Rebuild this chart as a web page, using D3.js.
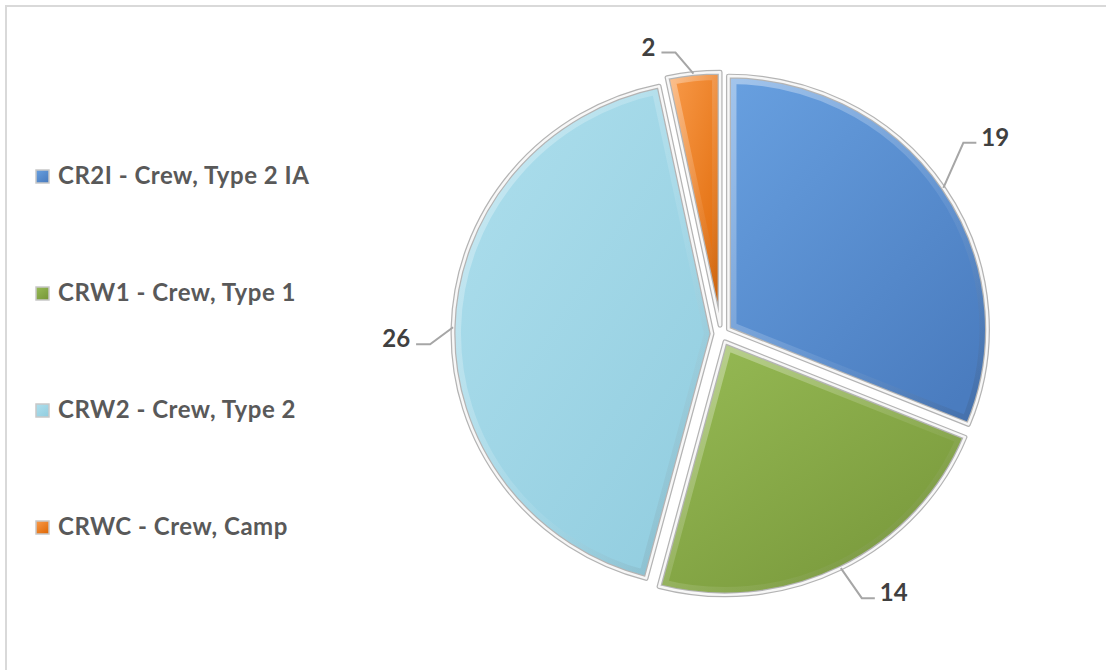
<!DOCTYPE html>
<html>
<head>
<meta charset="utf-8">
<script src="https://cdn.jsdelivr.net/npm/d3@7"></script>
<style>
  html, body { margin: 0; padding: 0; background: #fff; }
  svg { display: block; }
  .legend text { font-family: Lato, "Open Sans", sans-serif; font-weight: 700; fill: #595959; letter-spacing: 0.5px; }
  .label { font-family: Lato, "Open Sans", sans-serif; font-weight: 700; fill: #404040; }
</style>
</head>
<body>
<svg id="chart" width="1106" height="670"></svg>
<script>
"use strict";

// data
const categories = ['CR2I - Crew, Type 2 IA', 'CRW1 - Crew, Type 1', 'CRW2 - Crew, Type 2', 'CRWC - Crew, Camp'];
const values = [19, 14, 26, 2];
const lightColors = ['#68a0e0', '#97bb55', '#aedfed', '#f99b4b'];
const darkColors = ['#4a7cbf', '#78983b', '#93cee0', '#e06a08'];

// layout
const width = 1106, height = 670;
const cx = 721, cy = 334;
const rx = 259, ry = 253;
const explode = 9;
// leader line elbow, relative to the point on the rim at the slice middle
const elbowOffsets = [[20, -45], [21, 30], [-23, 17], [-18, -21]];

const svg = d3.select('#chart');
const defs = svg.append('defs');

svg.append('rect')
    .attr('x', 6).attr('y', 6)
    .attr('width', width + 20).attr('height', height + 20)
    .attr('fill', 'none')
    .attr('stroke', '#d9d9d9')
    .attr('stroke-width', 2);

values.forEach((v, i) => {
    const g = defs.append('linearGradient')
        .attr('id', `grad${i}`)
        .attr('x1', '0').attr('y1', '0')
        .attr('x2', '0.8').attr('y2', '1');
    g.append('stop').attr('offset', '0%').attr('stop-color', lightColors[i]);
    g.append('stop').attr('offset', '100%').attr('stop-color', darkColors[i]);
});

const rim = defs.append('linearGradient')
    .attr('id', 'rim')
    .attr('x1', '0').attr('y1', '0')
    .attr('x2', '1').attr('y2', '1');
rim.append('stop').attr('offset', '0%').attr('stop-color', '#fff').attr('stop-opacity', 0.4);
rim.append('stop').attr('offset', '60%').attr('stop-color', '#fff').attr('stop-opacity', 0.08);
rim.append('stop').attr('offset', '100%').attr('stop-color', '#000').attr('stop-opacity', 0.12);

const pie = d3.pie().sort(null).value(d => d);
const slices = pie(values);
const arc = d3.arc().innerRadius(0).outerRadius(rx);
const ky = ry / rx;

const pieG = svg.append('g')
    .attr('transform', `translate(${cx},${cy}) scale(1,${ky})`);

const mid = d => (d.startAngle + d.endAngle) / 2;

const sliceG = pieG.selectAll('g.slice')
    .data(slices)
    .enter()
    .append('g')
    .attr('class', 'slice')
    .attr('transform', d => `translate(${explode * Math.sin(mid(d))},${-explode * Math.cos(mid(d))})`);

sliceG.append('clipPath')
    .attr('id', (d, i) => `clip${i}`)
    .append('path')
    .attr('d', arc);

sliceG.append('path')
    .attr('d', arc)
    .attr('fill', (d, i) => `url(#grad${i})`);

// soft bevel rim inside each slice
sliceG.append('path')
    .attr('d', arc)
    .attr('fill', 'none')
    .attr('stroke', 'url(#rim)')
    .attr('stroke-width', 16)
    .attr('clip-path', (d, i) => `url(#clip${i})`);

// outline: grey outer, white inner
sliceG.append('path')
    .attr('d', arc)
    .attr('fill', 'none')
    .attr('stroke', '#b4b4b4')
    .attr('stroke-width', 5)
    .attr('stroke-linejoin', 'round');
sliceG.append('path')
    .attr('d', arc)
    .attr('fill', 'none')
    .attr('stroke', '#f7f7f7')
    .attr('stroke-width', 2.5)
    .attr('stroke-linejoin', 'round');

// data labels with leader lines
const rimPoint = d => {
    const a = mid(d);
    return [cx + (rx + explode) * Math.sin(a), cy - ky * (rx + explode) * Math.cos(a)];
};

slices.forEach((d, i) => {
    const p0 = rimPoint(d);
    const p1 = [p0[0] + elbowOffsets[i][0], p0[1] + elbowOffsets[i][1]];
    const right = Math.sin(mid(d)) > 0;
    const p2 = [p1[0] + (right ? 13 : -14), p1[1]];
    svg.append('path')
        .attr('d', d3.line()([p0, p1, p2]))
        .attr('fill', 'none')
        .attr('stroke', '#a6a6a6')
        .attr('stroke-width', 2);
    svg.append('text')
        .attr('class', 'label')
        .attr('x', p2[0] + (right ? 5 : -6))
        .attr('y', p1[1] + 3)
        .attr('text-anchor', right ? 'start' : 'end')
        .attr('font-size', 24)
        .text(d.data);
});

// legend
const legendY = d3.scalePoint()
    .domain(categories)
    .range([176, 527]);

const legend = svg.append('g').attr('class', 'legend');
const item = legend.selectAll('g')
    .data(categories)
    .enter()
    .append('g')
    .attr('transform', d => `translate(36,${legendY(d)})`);

item.append('rect')
    .attr('x', 0).attr('y', -6)
    .attr('width', 13).attr('height', 13)
    .attr('fill', (d, i) => `url(#grad${i})`)
    .attr('stroke', '#c8c8c8')
    .attr('stroke-width', 1.5);

item.append('text')
    .attr('x', 22)
    .attr('y', 8)
    .attr('font-size', 24)
    .text(d => d);
</script>
</body>
</html>
